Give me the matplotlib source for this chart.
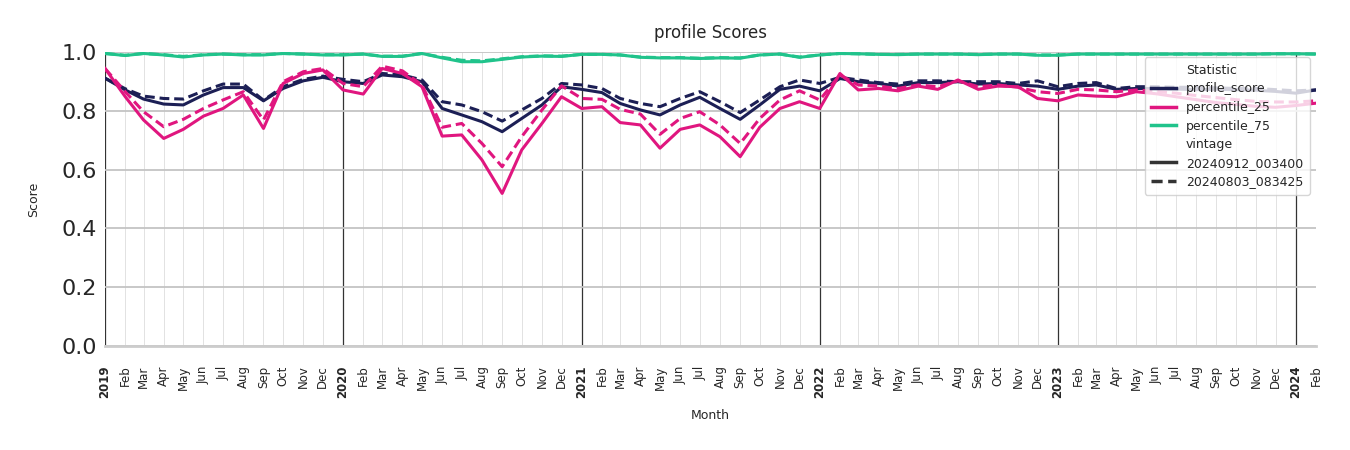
import matplotlib
matplotlib.use("Agg")
import matplotlib.pyplot as plt
import matplotlib.dates as mdates
from matplotlib.lines import Line2D
import pandas as pd

months = pd.date_range("2019-01-01", "2024-02-01", freq="MS")

profile_a = [0.911, 0.871, 0.840, 0.823, 0.820, 0.854, 0.879, 0.879, 0.834, 0.876, 0.902, 0.914,
             0.899, 0.893, 0.922, 0.916, 0.899, 0.808, 0.786, 0.763, 0.729, 0.774, 0.820, 0.882,
             0.873, 0.862, 0.825, 0.803, 0.786, 0.820, 0.846, 0.808, 0.771, 0.820, 0.873, 0.884,
             0.868, 0.910, 0.899, 0.893, 0.884, 0.896, 0.896, 0.899, 0.891, 0.893, 0.888, 0.884,
             0.873, 0.884, 0.888, 0.873, 0.876, 0.876, 0.874, 0.872, 0.873, 0.872, 0.870, 0.866,
             0.860, 0.871]
profile_b = [0.911, 0.875, 0.850, 0.842, 0.840, 0.868, 0.891, 0.891, 0.836, 0.882, 0.907, 0.918,
             0.907, 0.899, 0.927, 0.922, 0.905, 0.831, 0.820, 0.797, 0.765, 0.803, 0.842, 0.893,
             0.888, 0.876, 0.842, 0.825, 0.814, 0.842, 0.865, 0.831, 0.794, 0.837, 0.882, 0.905,
             0.893, 0.914, 0.905, 0.896, 0.891, 0.902, 0.902, 0.899, 0.899, 0.899, 0.893, 0.902,
             0.882, 0.893, 0.896, 0.876, 0.882, 0.882, 0.880, 0.880, 0.878, 0.876, 0.876, 0.872,
             0.868, 0.871]
p25_a = [0.944, 0.848, 0.769, 0.706, 0.737, 0.782, 0.808, 0.854, 0.740, 0.893, 0.927, 0.939,
         0.871, 0.857, 0.944, 0.927, 0.882, 0.714, 0.718, 0.633, 0.519, 0.667, 0.757, 0.848,
         0.808, 0.814, 0.760, 0.752, 0.673, 0.737, 0.752, 0.712, 0.644, 0.744, 0.808, 0.831,
         0.808, 0.927, 0.871, 0.876, 0.868, 0.884, 0.873, 0.905, 0.873, 0.884, 0.882, 0.842,
         0.834, 0.854, 0.850, 0.848, 0.865, 0.858, 0.848, 0.838, 0.828, 0.822, 0.815, 0.812,
         0.818, 0.826]
p25_b = [0.944, 0.865, 0.797, 0.746, 0.771, 0.808, 0.837, 0.865, 0.769, 0.899, 0.933, 0.944,
         0.893, 0.882, 0.952, 0.936, 0.888, 0.744, 0.757, 0.689, 0.610, 0.712, 0.803, 0.885,
         0.842, 0.839, 0.805, 0.789, 0.720, 0.774, 0.797, 0.752, 0.689, 0.774, 0.837, 0.868,
         0.837, 0.922, 0.888, 0.884, 0.876, 0.888, 0.882, 0.902, 0.882, 0.888, 0.880, 0.865,
         0.859, 0.873, 0.871, 0.865, 0.871, 0.866, 0.860, 0.852, 0.845, 0.838, 0.832, 0.830,
         0.830, 0.834]
p75_a = [0.995, 0.988, 0.995, 0.990, 0.983, 0.990, 0.993, 0.990, 0.990, 0.995, 0.993, 0.990,
         0.990, 0.993, 0.985, 0.985, 0.995, 0.980, 0.967, 0.967, 0.975, 0.983, 0.986, 0.985,
         0.992, 0.992, 0.990, 0.982, 0.980, 0.980, 0.978, 0.980, 0.979, 0.990, 0.993, 0.982,
         0.990, 0.995, 0.994, 0.992, 0.991, 0.993, 0.993, 0.993, 0.991, 0.993, 0.993, 0.989,
         0.989, 0.993, 0.993, 0.993, 0.993, 0.993, 0.993, 0.993, 0.993, 0.993, 0.993, 0.994,
         0.994, 0.993]
p75_b = [0.995, 0.989, 0.995, 0.991, 0.985, 0.991, 0.993, 0.991, 0.991, 0.995, 0.993, 0.991,
         0.991, 0.993, 0.986, 0.986, 0.995, 0.982, 0.972, 0.970, 0.977, 0.984, 0.987, 0.986,
         0.992, 0.992, 0.990, 0.983, 0.981, 0.981, 0.979, 0.981, 0.980, 0.990, 0.993, 0.983,
         0.990, 0.995, 0.994, 0.992, 0.992, 0.993, 0.993, 0.993, 0.992, 0.993, 0.993, 0.990,
         0.990, 0.993, 0.993, 0.993, 0.993, 0.993, 0.993, 0.993, 0.993, 0.993, 0.993, 0.994,
         0.994, 0.993]

statistics = ["profile_score", "percentile_25", "percentile_75"]
vintages = ["20240912_003400", "20240803_083425"]
colors = {"profile_score": "#1c1f55", "percentile_25": "#e0167f", "percentile_75": "#20c38b"}
series = {
    ("profile_score", vintages[0]): profile_a, ("profile_score", vintages[1]): profile_b,
    ("percentile_25", vintages[0]): p25_a, ("percentile_25", vintages[1]): p25_b,
    ("percentile_75", vintages[0]): p75_a, ("percentile_75", vintages[1]): p75_b,
}
styles = {vintages[0]: "-", vintages[1]: (0, (3.2, 1.6))}

fig = plt.figure(figsize=(13.5, 4.5), dpi=100)
ax = fig.add_axes([0.0778, 0.2311, 0.8970, 0.6533])

for stat in statistics:
    for v in vintages:
        ax.plot(months, series[(stat, v)], color=colors[stat], linestyle=styles[v],
                linewidth=2.2, zorder=3)

ax.set_xlim(months[0], months[-1])
ax.set_ylim(0, 1.0)
ax.set_yticks([0.0, 0.2, 0.4, 0.6, 0.8, 1.0])
ax.tick_params(axis="y", labelsize=16, length=0, pad=6, labelcolor="#262626")

ax.xaxis.set_major_locator(mdates.YearLocator())
ax.xaxis.set_major_formatter(mdates.DateFormatter("%Y"))
ax.xaxis.set_minor_locator(mdates.MonthLocator(bymonth=range(2, 13)))
ax.xaxis.set_minor_formatter(mdates.DateFormatter("%b"))
ax.tick_params(axis="x", which="both", length=0, labelsize=8.5, pad=14, labelcolor="#262626")
for lab in ax.get_xticklabels(which="major"):
    lab.set_rotation(90)
    lab.set_fontweight("bold")
for lab in ax.get_xticklabels(which="minor"):
    lab.set_rotation(90)

ax.grid(axis="y", color="#c4c4c4", linewidth=1.3, zorder=0)
ax.grid(axis="x", which="major", color="#333333", linewidth=0.9, zorder=1)
ax.grid(axis="x", which="minor", color="#dddddd", linewidth=0.6, zorder=0)
ax.set_axisbelow(True)

for s in ["top", "right", "left"]:
    ax.spines[s].set_visible(False)
ax.spines["bottom"].set_color("#cccccc")
ax.spines["bottom"].set_linewidth(2)

ax.set_title("profile Scores", fontsize=12, color="#262626", pad=10)
ax.set_ylabel("Score", fontsize=9, color="#262626", labelpad=15)
ax.set_xlabel("Month", fontsize=9, color="#262626", labelpad=8)

handles = [Line2D([], [], linestyle="none")]
labels = ["Statistic"]
for stat in statistics:
    handles.append(Line2D([], [], color=colors[stat], linewidth=2.5))
    labels.append(stat)
handles.append(Line2D([], [], linestyle="none"))
labels.append("vintage")
for v in vintages:
    handles.append(Line2D([], [], color="#333333", linestyle=styles[v], linewidth=2.5))
    labels.append(v)
leg = ax.legend(handles, labels, loc="upper right", bbox_to_anchor=(1.0, 1.003),
                fontsize=9, framealpha=0.8, edgecolor="#cccccc", fancybox=True,
                handlelength=2.0, labelspacing=0.45, borderpad=0.5)
for t in leg.get_texts():
    t.set_color("#262626")
leg.set_zorder(5)

fig.savefig("out.png", dpi=100)
